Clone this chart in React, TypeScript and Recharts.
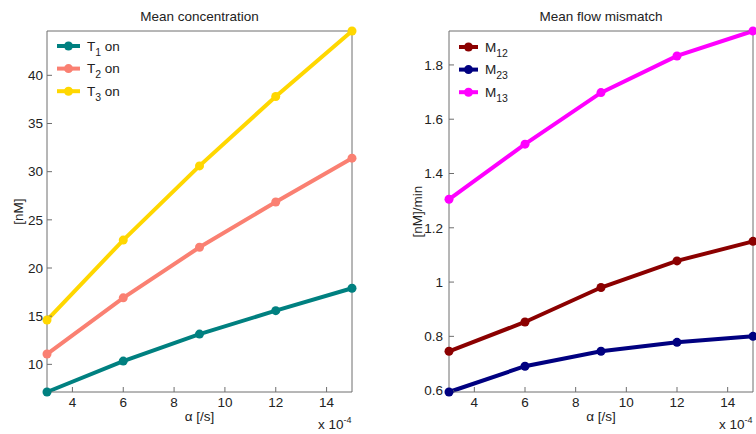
import { Legend, Line, LineChart, XAxis, YAxis } from 'recharts'

const alpha = [3, 6, 9, 12, 15]
const alphaTicks = [4, 6, 8, 10, 12, 14]

// mean concentration [nM] per transporter
const t1On = [7.13, 10.34, 13.14, 15.57, 17.9]
const t2On = [11.07, 16.9, 22.15, 26.85, 31.4]
const t3On = [14.6, 22.9, 30.6, 37.8, 44.6]
const concTicks = [10, 15, 20, 25, 30, 35, 40]

// mean flow mismatch [nM]/min per pair
const m12 = [0.745, 0.853, 0.98, 1.078, 1.15]
const m23 = [0.595, 0.69, 0.745, 0.778, 0.8]
const m13 = [1.305, 1.508, 1.698, 1.833, 1.925]
const flowTicks = [0.6, 0.8, 1, 1.2, 1.4, 1.6, 1.8]

interface Series {
  key: string
  sym: string
  sub: string
  tail: string
  color: string
  values: number[]
}

const concSeries: Series[] = [
  { key: 't1', sym: 'T', sub: '1', tail: ' on', color: '#008080', values: t1On },
  { key: 't2', sym: 'T', sub: '2', tail: ' on', color: '#fa8072', values: t2On },
  { key: 't3', sym: 'T', sub: '3', tail: ' on', color: '#ffd700', values: t3On },
]

const flowSeries: Series[] = [
  { key: 'm12', sym: 'M', sub: '12', tail: '', color: '#8b0000', values: m12 },
  { key: 'm23', sym: 'M', sub: '23', tail: '', color: '#000080', values: m23 },
  { key: 'm13', sym: 'M', sub: '13', tail: '', color: '#ff00ff', values: m13 },
]

const FRAME = '#6e6e6e'
const INK = '#222'
const FONT = '"Liberation Sans", Arial, sans-serif'

function toRows(series: Series[]) {
  return alpha.map((a, i) => {
    const row: Record<string, number> = { alpha: a }
    series.forEach((s) => (row[s.key] = s.values[i]))
    return row
  })
}

interface PanelProps {
  title: string
  yLabel: string
  yLabelX: number
  series: Series[]
  yTicks: number[]
  width: number
  margin: { top: number; right: number; bottom: number; left: number }
  tickGap: number
  legendPos: { left: number; top: number; lineLen: number }
}

function Panel({ title, yLabel, yLabelX, series, yTicks, width, margin, tickGap, legendPos }: PanelProps) {
  const all = series.flatMap((s) => s.values)
  const yDomain = [Math.min(...all), Math.max(...all)]
  const height = 434
  const midY = (margin.top + 1 + height - margin.bottom - 30) / 2

  const renderLegend = () => (
    <svg width={110} height={72} style={{ overflow: 'visible' }}>
      {series.map((s, i) => {
        const cy = 11 + i * 22.6
        const len = legendPos.lineLen
        return (
          <g key={s.key}>
            <line x1={7} x2={7 + len} y1={cy} y2={cy} stroke={s.color} strokeWidth={4} />
            <circle cx={7 + len / 2} cy={cy} r={4.5} fill={s.color} />
            <text x={len + 14} y={cy + 4.5} fontSize={13.5} fill={INK} fontFamily={FONT}>
              {s.sym}
              <tspan dy={5} fontSize={10.5}>{s.sub}</tspan>
              {s.tail && <tspan dy={-5}>{s.tail}</tspan>}
            </text>
          </g>
        )
      })}
    </svg>
  )

  return (
    <LineChart width={width} height={height} data={toRows(series)} margin={margin}>
      <XAxis
        dataKey="alpha"
        type="number"
        domain={[3, 15]}
        ticks={alphaTicks}
        height={30}
        stroke={FRAME}
        tickSize={-5}
        tickMargin={10}
        tick={{ fill: INK, fontSize: 13.5 }}
        label={({ viewBox }: any) => (
          <g fill={INK} fontSize={13.5}>
            <text x={viewBox.x + viewBox.width / 2} y={viewBox.y + 29} textAnchor="middle">
              α [/s]
            </text>
            <text x={viewBox.x + viewBox.width - 34} y={viewBox.y + 37}>
              x 10<tspan dy={-6} fontSize={9}>-4</tspan>
            </text>
          </g>
        )}
      />
      {/* top edge of the box: inward ticks, carries the panel title */}
      <XAxis
        xAxisId="top"
        orientation="top"
        type="number"
        domain={[3, 15]}
        ticks={alphaTicks}
        height={1}
        stroke={FRAME}
        tickSize={-5}
        tick={false}
        label={({ viewBox }: any) => (
          <text
            x={viewBox.x + viewBox.width / 2}
            y={viewBox.y - 9}
            textAnchor="middle"
            fill={INK}
            fontSize={13.5}
          >
            {title}
          </text>
        )}
      />
      <YAxis
        type="number"
        domain={yDomain}
        ticks={yTicks}
        width={40}
        stroke={FRAME}
        tickSize={-5}
        tickMargin={tickGap}
        tick={{ fill: INK, fontSize: 13.5 }}
        label={() => (
          <text
            x={yLabelX}
            y={midY}
            transform={`rotate(-90, ${yLabelX}, ${midY})`}
            textAnchor="middle"
            dominantBaseline="central"
            fill={INK}
            fontSize={13.5}
          >
            {yLabel}
          </text>
        )}
      />
      {/* right edge of the box */}
      <YAxis
        yAxisId="right"
        orientation="right"
        type="number"
        domain={yDomain}
        ticks={yTicks}
        width={1}
        stroke={FRAME}
        tickSize={-5}
        tick={false}
      />
      <Legend
        layout="vertical"
        align="center"
        verticalAlign="middle"
        content={renderLegend}
        wrapperStyle={{ left: legendPos.left, top: legendPos.top, width: 110, height: 72 }}
      />
      {series.map((s) => (
        <Line
          key={s.key}
          dataKey={s.key}
          stroke={s.color}
          strokeWidth={4}
          dot={{ r: 4.5, fill: s.color, stroke: 'none' }}
          activeDot={false}
          isAnimationActive={false}
        />
      ))}
    </LineChart>
  )
}

export default function App() {
  return (
    <div
      style={{
        position: 'absolute',
        left: 0,
        top: 0,
        width: 756,
        height: 434,
        background: '#fff',
        fontFamily: FONT,
        overflow: 'hidden',
      }}
    >
      <div style={{ position: 'absolute', left: 0, top: 0 }}>
        <Panel
          title="Mean concentration"
          yLabel="[nM]"
          yLabelX={18}
          series={concSeries}
          yTicks={concTicks}
          width={380}
          margin={{ top: 30, right: 27, bottom: 12, left: 7 }}
          tickGap={9}
          legendPos={{ left: 50, top: 35, lineLen: 23 }}
        />
      </div>
      <div style={{ position: 'absolute', left: 380, top: 0 }}>
        <Panel
          title="Mean flow mismatch"
          yLabel="[nM]/min"
          yLabelX={37}
          series={flowSeries}
          yTicks={flowTicks}
          width={376}
          margin={{ top: 30, right: 2, bottom: 12, left: 29 }}
          tickGap={11}
          legendPos={{ left: 72, top: 36, lineLen: 19 }}
        />
      </div>
    </div>
  )
}
